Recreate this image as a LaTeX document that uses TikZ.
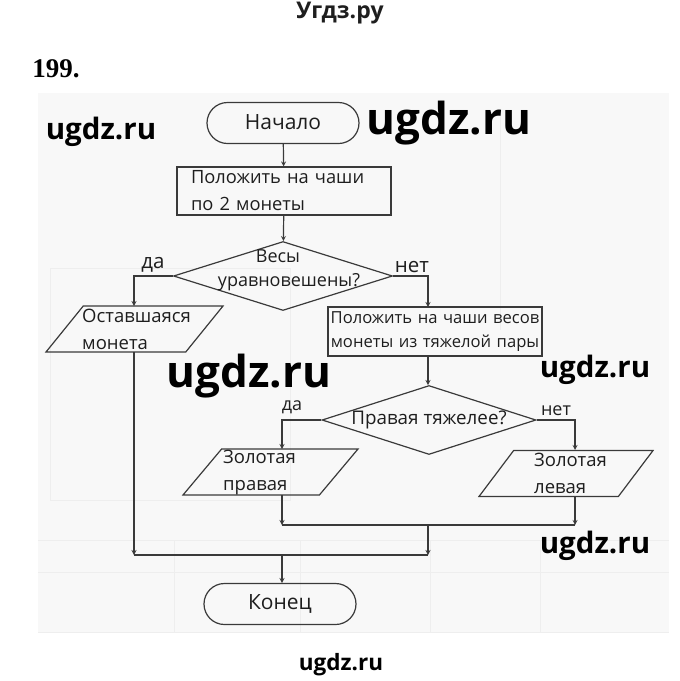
\documentclass[tikz,border=0pt]{standalone}
\usepackage{fontspec}
\setmainfont{Open Sans}
\newfontfamily\numfont{Liberation Serif}
\usepackage{tikz}
\usetikzlibrary{arrows, shapes.geometric, shapes.misc, calc}
\definecolor{LineGrey}{RGB}{58,58,58}
\definecolor{TextGrey}{RGB}{30,30,30}
\definecolor{PaperGrey}{RGB}{248,248,248}
\definecolor{GhostGrey}{RGB}{238,238,238}
\newcommand{\slantgap}[1]{\rule{0pt}{46pt}\hspace*{#1pt}}
\tikzset{
    flowline/.style={->, line width=1.2pt, LineGrey},
    joinline/.style={line width=1.2pt, LineGrey},
    terminal/.style={draw=LineGrey, line width=1.2pt, rounded rectangle, minimum width=152, minimum height=41, inner sep=0, font=\fontsize{21}{25}\selectfont, text=TextGrey},
    action/.style={draw=LineGrey, line width=1.1pt, rectangle, inner sep=0, font=\fontsize{18.3}{27}\selectfont, text=TextGrey},
    branch/.style={draw=LineGrey, line width=1.2pt, diamond, aspect=3.1, inner sep=0, text=TextGrey},
    output/.style={draw=LineGrey, line width=1.2pt, trapezium, inner sep=0},
    caption/.style={anchor=west, inner sep=0, align=left, font=\fontsize{18.5}{27}\selectfont, text=TextGrey},
    answer/.style={inner sep=0, font=\fontsize{18}{22}\selectfont, text=TextGrey},
    stamp/.style={inner sep=0, text=black}
}
\begin{document}
\begin{tikzpicture}[>=stealth, x=1pt, y=-1pt]
\useasboundingbox (0, 0) rectangle (680, 681);
\fill[PaperGrey] (38, 93) rectangle (669, 633);
\foreach \y in {540, 572, 632}
{
    \draw[GhostGrey, thick] (38, \y) -- (669, \y);
}
\foreach \x in {174, 300, 430, 540}
{
    \draw[GhostGrey, thick] (\x, 540) -- (\x, 632);
}
\draw[GhostGrey, thick] (50, 268) rectangle (290, 500);
\draw[GhostGrey, thick] (500, 110) -- (500, 330);

\node[terminal] (start) at (283, 123) {\raisebox{2pt}{Начало}};
\node[action, minimum width=214, minimum height=48, text width=186, align=left] (put1) at (284, 191) {Положить на чаши\\по 2 монеты};
\node[branch, minimum width=219, minimum height=69] (scale) at (283, 276) {};
\node[answer] (scaleT1) at (278, 256) {Весы};
\node[answer] (scaleT2) at (289, 282) {уравновешены?};
\node[action, minimum width=214, minimum height=49, text width=212, align=center, font=\fontsize{16.6}{24}\selectfont] (put2) at (435, 331.5) {Положить на чаши весов\\монеты из тяжелой пары};
\node[branch, minimum width=214, minimum height=69, font=\fontsize{18.8}{22}\selectfont] (right) at (429, 420) {Правая тяжелее?};
\node[output, trapezium left angle=51, trapezium right angle=129] (coin) at (134.5, 329) {\slantgap{102.5}};
\node[caption] (coinT) at (82, 329) {Оставшаяся\\монета};
\node[output, trapezium left angle=50, trapezium right angle=130] (goldR) at (270.5, 472) {\slantgap{97.8}};
\node[caption] (goldRT) at (223, 473) {Золотая\\правая};
\node[output, trapezium left angle=53, trapezium right angle=127] (goldL) at (566, 473.5) {\slantgap{104.7}};
\node[caption] (goldLT) at (534, 473) {Золотая\\левая};
\node[terminal] (end) at (280, 604) {\raisebox{3pt}{Конец}\hspace{6pt}};

\node[answer, font=\fontsize{20.5}{24}\selectfont] (yes1) at (153, 265) {да};
\node[answer, font=\fontsize{20.5}{24}\selectfont] (no1) at (412, 267) {нет};
\node[answer] (yes2) at (292, 407) {да};
\node[answer] (no2) at (556, 411) {нет};

\coordinate (coinIn) at (134, 306);
\coordinate (coinOut) at (134, 352);
\coordinate (put2In) at (428, 307);
\coordinate (put2Out) at (428, 356);
\coordinate (rightIn) at (428, 385);
\coordinate (goldRIn) at (282, 449);
\coordinate (goldROut) at (282, 495);
\coordinate (goldLIn) at (575, 450);
\coordinate (goldLOut) at (575, 497);
\coordinate (joinL) at (282, 525);
\coordinate (joinR) at (575, 525);
\coordinate (joinM) at (428, 525);
\coordinate (mergeL) at (134, 555);
\coordinate (mergeM) at (428, 555);
\coordinate (mergeC) at (282, 555);
\coordinate (endIn) at (282, 583);

\draw[flowline] (start) -- (put1);
\draw[flowline] (put1) -- (scale);
\draw[flowline] (scale.west) -| (coinIn);
\draw[flowline] (scale.east) -| (put2In);
\draw[flowline] (put2Out) -- (rightIn);
\draw[flowline] (right.west) -| (goldRIn);
\draw[flowline] (right.east) -| (goldLIn);
\draw[flowline] (goldROut) -- (joinL);
\draw[flowline] (goldLOut) -- (joinR);
\draw[joinline] (joinL) -- (joinR);
\draw[flowline] (joinM) -- (mergeM);
\draw[flowline] (coinOut) -- (mergeL);
\draw[joinline] (mergeL) -- (mergeM);
\draw[flowline] (mergeC) -- (endIn);

\node[inner sep=0, font=\fontsize{23}{27}\selectfont\bfseries, text=TextGrey] (site) at (340, 13) {Угдз.ру};
\node[inner sep=0, font=\fontsize{27}{31}\selectfont\numfont\bfseries, text=black] (num) at (56, 69) {199.};
\foreach \i/\x/\y/\s in {1/101/132/29.5, 2/449/123/44, 3/249/376/44, 4/595/370/29.5, 5/595/546/29.5}
{
    \node[stamp, font=\fontsize{\s}{\s}\selectfont\bfseries] (wm\i) at (\x, \y) {ugdz.ru};
}
\node[stamp, font=\fontsize{22.5}{24}\selectfont\bfseries] (wm6) at (341, 665) {ugdz.ru};
\end{tikzpicture}
\end{document}
